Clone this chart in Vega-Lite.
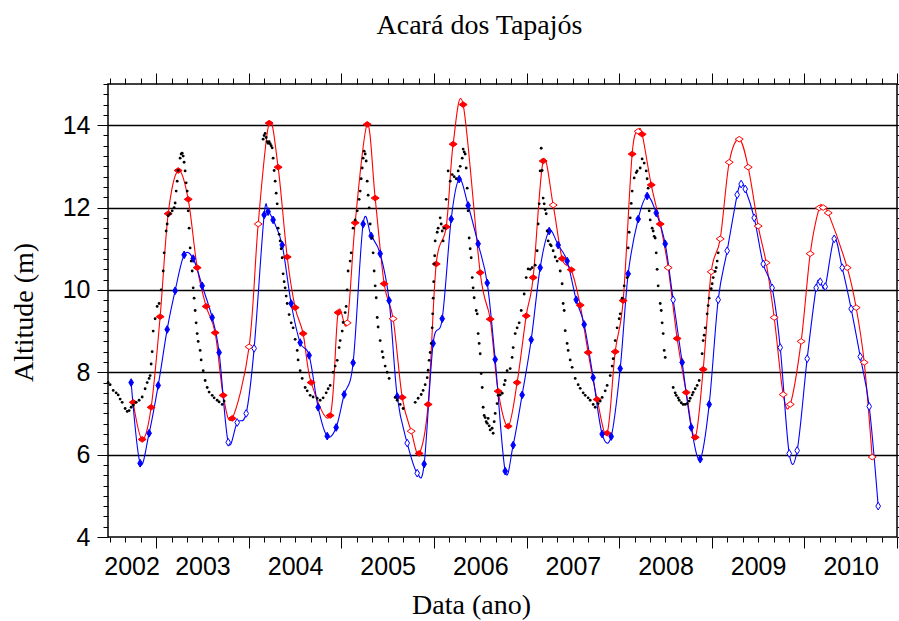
{
"$schema":"https://vega.github.io/schema/vega-lite/v6.json",
"width":789,"height":453,
"autosize":{"type":"none"},
"padding":{"left":108,"top":84,"right":2,"bottom":84},
"background":"white",
"title":{"text":"Acará dos Tapajós","font":"Liberation Serif","fontSize":28,"fontWeight":"normal","color":"black","anchor":"middle","dx":-23,"baseline":"alphabetic","offset":10},
"config":{"view":{"stroke":"black","strokeWidth":1.5},"axis":{"domain":false,"grid":false,"labelFont":"Liberation Sans","labelFontSize":25,"labelColor":"black","tickColor":"black","tickWidth":1,"titleFont":"Liberation Serif","titleFontSize":28,"titleFontWeight":"normal","titleColor":"black","labelFlush":false,"labelOverlap":false}},
"datasets":{
"verm":[{"ano":2002.752,"alt":7.27,"oco":0},{"ano":2002.849,"alt":6.37,"oco":0},{"ano":2002.946,"alt":7.15,"oco":0},{"ano":2003.043,"alt":9.35,"oco":0},{"ano":2003.13,"alt":11.85,"oco":0},{"ano":2003.238,"alt":12.9,"oco":0},{"ano":2003.346,"alt":12.2,"oco":0},{"ano":2003.443,"alt":10.54,"oco":0},{"ano":2003.54,"alt":9.6,"oco":0},{"ano":2003.637,"alt":8.96,"oco":0},{"ano":2003.724,"alt":7.44,"oco":0},{"ano":2003.821,"alt":6.88,"oco":0},{"ano":2004.004,"alt":8.62,"oco":1},{"ano":2004.102,"alt":11.6,"oco":1},{"ano":2004.22,"alt":14.05,"oco":0},{"ano":2004.317,"alt":12.98,"oco":0},{"ano":2004.415,"alt":10.8,"oco":0},{"ano":2004.501,"alt":9.57,"oco":0},{"ano":2004.587,"alt":8.94,"oco":0},{"ano":2004.674,"alt":7.75,"oco":0},{"ano":2004.879,"alt":6.95,"oco":0},{"ano":2004.965,"alt":9.45,"oco":0},{"ano":2005.063,"alt":9.2,"oco":1},{"ano":2005.149,"alt":11.63,"oco":0},{"ano":2005.279,"alt":14.02,"oco":0},{"ano":2005.365,"alt":12.23,"oco":0},{"ano":2005.462,"alt":10.15,"oco":0},{"ano":2005.559,"alt":9.3,"oco":1},{"ano":2005.657,"alt":7.39,"oco":0},{"ano":2005.754,"alt":6.57,"oco":1},{"ano":2005.84,"alt":6.03,"oco":0},{"ano":2005.937,"alt":7.22,"oco":0},{"ano":2006.024,"alt":10.63,"oco":0},{"ano":2006.132,"alt":11.53,"oco":0},{"ano":2006.207,"alt":13.54,"oco":0},{"ano":2006.315,"alt":14.5,"oco":0},{"ano":2006.499,"alt":10.42,"oco":0},{"ano":2006.607,"alt":9.29,"oco":0},{"ano":2006.693,"alt":7.54,"oco":0},{"ano":2006.801,"alt":6.69,"oco":0},{"ano":2006.898,"alt":7.75,"oco":0},{"ano":2006.996,"alt":9.37,"oco":0},{"ano":2007.071,"alt":10.3,"oco":0},{"ano":2007.179,"alt":13.13,"oco":0},{"ano":2007.287,"alt":12.06,"oco":1},{"ano":2007.384,"alt":10.76,"oco":0},{"ano":2007.482,"alt":10.49,"oco":0},{"ano":2007.579,"alt":9.63,"oco":0},{"ano":2007.665,"alt":8.48,"oco":0},{"ano":2007.762,"alt":7.34,"oco":0},{"ano":2007.87,"alt":6.52,"oco":0},{"ano":2007.957,"alt":8.5,"oco":0},{"ano":2008.043,"alt":9.74,"oco":0},{"ano":2008.14,"alt":13.3,"oco":0},{"ano":2008.205,"alt":13.85,"oco":1},{"ano":2008.248,"alt":13.78,"oco":0},{"ano":2008.346,"alt":12.55,"oco":0},{"ano":2008.443,"alt":11.6,"oco":0},{"ano":2008.529,"alt":10.54,"oco":1},{"ano":2008.626,"alt":8.82,"oco":0},{"ano":2008.724,"alt":7.51,"oco":0},{"ano":2008.821,"alt":6.42,"oco":0},{"ano":2008.907,"alt":8.07,"oco":0},{"ano":2008.994,"alt":10.44,"oco":1},{"ano":2009.091,"alt":11.24,"oco":1},{"ano":2009.188,"alt":13.1,"oco":1},{"ano":2009.296,"alt":13.66,"oco":1},{"ano":2009.393,"alt":12.98,"oco":1},{"ano":2009.501,"alt":11.55,"oco":1},{"ano":2009.587,"alt":10.66,"oco":1},{"ano":2009.674,"alt":9.33,"oco":1},{"ano":2009.771,"alt":7.46,"oco":1},{"ano":2009.847,"alt":7.22,"oco":1},{"ano":2009.965,"alt":8.75,"oco":1},{"ano":2010.063,"alt":10.88,"oco":1},{"ano":2010.16,"alt":11.99,"oco":1},{"ano":2010.203,"alt":12.0,"oco":1},{"ano":2010.257,"alt":11.87,"oco":1},{"ano":2010.462,"alt":10.54,"oco":1},{"ano":2010.559,"alt":9.57,"oco":1},{"ano":2010.646,"alt":8.24,"oco":1},{"ano":2010.732,"alt":5.94,"oco":1}],
"azul":[{"ano":2002.73,"alt":7.75,"oco":0},{"ano":2002.827,"alt":5.79,"oco":0},{"ano":2002.924,"alt":6.52,"oco":0},{"ano":2003.022,"alt":7.68,"oco":0},{"ano":2003.119,"alt":9.04,"oco":0},{"ano":2003.205,"alt":9.98,"oco":0},{"ano":2003.302,"alt":10.85,"oco":0},{"ano":2003.4,"alt":10.76,"oco":0},{"ano":2003.497,"alt":10.1,"oco":0},{"ano":2003.605,"alt":9.33,"oco":0},{"ano":2003.68,"alt":8.48,"oco":0},{"ano":2003.778,"alt":6.3,"oco":1},{"ano":2003.875,"alt":6.78,"oco":1},{"ano":2003.972,"alt":7.0,"oco":1},{"ano":2004.058,"alt":8.58,"oco":1},{"ano":2004.166,"alt":11.82,"oco":0},{"ano":2004.209,"alt":11.9,"oco":0},{"ano":2004.263,"alt":11.7,"oco":0},{"ano":2004.361,"alt":11.09,"oco":0},{"ano":2004.458,"alt":9.67,"oco":0},{"ano":2004.555,"alt":8.72,"oco":0},{"ano":2004.652,"alt":8.41,"oco":0},{"ano":2004.749,"alt":7.15,"oco":0},{"ano":2004.847,"alt":6.45,"oco":0},{"ano":2004.944,"alt":6.66,"oco":0},{"ano":2005.03,"alt":7.46,"oco":0},{"ano":2005.127,"alt":8.23,"oco":0},{"ano":2005.235,"alt":11.6,"oco":0},{"ano":2005.322,"alt":11.31,"oco":0},{"ano":2005.419,"alt":10.88,"oco":0},{"ano":2005.516,"alt":9.74,"oco":0},{"ano":2005.603,"alt":7.41,"oco":0},{"ano":2005.711,"alt":6.28,"oco":1},{"ano":2005.819,"alt":5.55,"oco":1},{"ano":2005.894,"alt":5.77,"oco":0},{"ano":2005.991,"alt":8.7,"oco":0},{"ano":2006.089,"alt":9.3,"oco":0},{"ano":2006.186,"alt":11.72,"oco":0},{"ano":2006.272,"alt":12.69,"oco":0},{"ano":2006.369,"alt":12.05,"oco":0},{"ano":2006.477,"alt":11.12,"oco":0},{"ano":2006.575,"alt":10.17,"oco":0},{"ano":2006.661,"alt":8.31,"oco":0},{"ano":2006.769,"alt":5.6,"oco":0},{"ano":2006.855,"alt":6.23,"oco":0},{"ano":2006.952,"alt":7.45,"oco":0},{"ano":2007.05,"alt":8.79,"oco":0},{"ano":2007.147,"alt":10.54,"oco":0},{"ano":2007.244,"alt":11.43,"oco":0},{"ano":2007.341,"alt":11.09,"oco":0},{"ano":2007.438,"alt":10.7,"oco":0},{"ano":2007.536,"alt":9.76,"oco":0},{"ano":2007.622,"alt":9.16,"oco":0},{"ano":2007.719,"alt":7.87,"oco":0},{"ano":2007.816,"alt":6.5,"oco":0},{"ano":2007.914,"alt":6.44,"oco":0},{"ano":2008.011,"alt":8.09,"oco":0},{"ano":2008.097,"alt":10.39,"oco":0},{"ano":2008.205,"alt":11.72,"oco":0},{"ano":2008.302,"alt":12.28,"oco":0},{"ano":2008.4,"alt":11.87,"oco":0},{"ano":2008.497,"alt":11.12,"oco":0},{"ano":2008.583,"alt":9.76,"oco":1},{"ano":2008.68,"alt":8.24,"oco":0},{"ano":2008.778,"alt":6.66,"oco":0},{"ano":2008.875,"alt":5.89,"oco":0},{"ano":2008.972,"alt":7.22,"oco":0},{"ano":2009.069,"alt":9.76,"oco":1},{"ano":2009.166,"alt":10.95,"oco":1},{"ano":2009.274,"alt":12.31,"oco":1},{"ano":2009.317,"alt":12.57,"oco":1},{"ano":2009.361,"alt":12.45,"oco":1},{"ano":2009.458,"alt":11.75,"oco":1},{"ano":2009.555,"alt":10.63,"oco":1},{"ano":2009.652,"alt":10.05,"oco":1},{"ano":2009.739,"alt":8.6,"oco":1},{"ano":2009.836,"alt":6.03,"oco":1},{"ano":2009.922,"alt":6.1,"oco":1},{"ano":2010.03,"alt":8.33,"oco":1},{"ano":2010.127,"alt":10.05,"oco":1},{"ano":2010.171,"alt":10.2,"oco":1},{"ano":2010.225,"alt":10.08,"oco":1},{"ano":2010.322,"alt":11.24,"oco":1},{"ano":2010.408,"alt":10.54,"oco":1},{"ano":2010.505,"alt":9.54,"oco":1},{"ano":2010.603,"alt":8.38,"oco":1},{"ano":2010.7,"alt":7.17,"oco":1},{"ano":2010.797,"alt":4.75,"oco":1}],
"insitu":[{"ano":2002.482,"alt":7.75},{"ano":2002.503,"alt":7.7},{"ano":2002.536,"alt":7.56},{"ano":2002.568,"alt":7.5},{"ano":2002.59,"alt":7.45},{"ano":2002.611,"alt":7.35},{"ano":2002.633,"alt":7.27},{"ano":2002.665,"alt":7.12},{"ano":2002.687,"alt":7.05},{"ano":2002.708,"alt":7.07},{"ano":2002.73,"alt":7.15},{"ano":2002.752,"alt":7.2},{"ano":2002.784,"alt":7.27},{"ano":2002.816,"alt":7.32},{"ano":2002.849,"alt":7.4},{"ano":2002.881,"alt":7.6},{"ano":2002.903,"alt":7.75},{"ano":2002.924,"alt":7.85},{"ano":2002.935,"alt":7.92},{"ano":2002.946,"alt":8.2},{"ano":2002.957,"alt":8.5},{"ano":2002.968,"alt":9.0},{"ano":2002.989,"alt":9.3},{"ano":2003.011,"alt":9.6},{"ano":2003.032,"alt":9.67},{"ano":2003.054,"alt":10.0},{"ano":2003.076,"alt":10.46},{"ano":2003.086,"alt":10.9},{"ano":2003.108,"alt":11.43},{"ano":2003.119,"alt":11.6},{"ano":2003.13,"alt":11.8},{"ano":2003.151,"alt":11.85},{"ano":2003.173,"alt":11.92},{"ano":2003.194,"alt":12.0},{"ano":2003.205,"alt":12.11},{"ano":2003.216,"alt":12.4},{"ano":2003.227,"alt":12.64},{"ano":2003.238,"alt":12.9},{"ano":2003.259,"alt":13.2},{"ano":2003.27,"alt":13.3},{"ano":2003.281,"alt":13.32},{"ano":2003.292,"alt":13.25},{"ano":2003.302,"alt":13.1},{"ano":2003.313,"alt":12.89},{"ano":2003.324,"alt":12.6},{"ano":2003.335,"alt":12.4},{"ano":2003.346,"alt":11.92},{"ano":2003.356,"alt":11.5},{"ano":2003.367,"alt":11.02},{"ano":2003.378,"alt":10.7},{"ano":2003.389,"alt":10.46},{"ano":2003.4,"alt":10.05},{"ano":2003.41,"alt":9.8},{"ano":2003.421,"alt":9.5},{"ano":2003.432,"alt":9.2},{"ano":2003.443,"alt":8.94},{"ano":2003.454,"alt":8.75},{"ano":2003.475,"alt":8.53},{"ano":2003.486,"alt":8.3},{"ano":2003.508,"alt":8.04},{"ano":2003.529,"alt":7.8},{"ano":2003.551,"alt":7.63},{"ano":2003.572,"alt":7.52},{"ano":2003.605,"alt":7.44},{"ano":2003.626,"alt":7.38},{"ano":2003.659,"alt":7.32},{"ano":2003.68,"alt":7.28},{"ano":2003.713,"alt":7.22},{"ano":2003.734,"alt":7.3},
{"ano":2004.155,"alt":13.66},{"ano":2004.166,"alt":13.75},{"ano":2004.177,"alt":13.8},{"ano":2004.188,"alt":13.7},{"ano":2004.199,"alt":13.6},{"ano":2004.209,"alt":13.56},{"ano":2004.22,"alt":13.6},{"ano":2004.231,"alt":13.55},{"ano":2004.242,"alt":13.5},{"ano":2004.253,"alt":13.45},{"ano":2004.263,"alt":13.2},{"ano":2004.274,"alt":12.9},{"ano":2004.285,"alt":12.64},{"ano":2004.296,"alt":12.35},{"ano":2004.307,"alt":12.09},{"ano":2004.317,"alt":11.5},{"ano":2004.328,"alt":11.35},{"ano":2004.339,"alt":11.19},{"ano":2004.35,"alt":11.0},{"ano":2004.361,"alt":10.78},{"ano":2004.371,"alt":10.39},{"ano":2004.382,"alt":10.2},{"ano":2004.393,"alt":10.05},{"ano":2004.404,"alt":9.85},{"ano":2004.415,"alt":9.67},{"ano":2004.436,"alt":9.4},{"ano":2004.458,"alt":9.2},{"ano":2004.479,"alt":9.08},{"ano":2004.501,"alt":8.8},{"ano":2004.523,"alt":8.53},{"ano":2004.533,"alt":8.3},{"ano":2004.555,"alt":8.04},{"ano":2004.577,"alt":7.85},{"ano":2004.609,"alt":7.63},{"ano":2004.631,"alt":7.55},{"ano":2004.663,"alt":7.44},{"ano":2004.695,"alt":7.4},{"ano":2004.739,"alt":7.37},{"ano":2004.771,"alt":7.32},{"ano":2004.803,"alt":7.38},{"ano":2004.836,"alt":7.5},{"ano":2004.857,"alt":7.6},{"ano":2004.879,"alt":7.68},{"ano":2004.911,"alt":8.0},{"ano":2004.933,"alt":8.15},{"ano":2004.955,"alt":8.29},{"ano":2004.976,"alt":8.6},{"ano":2004.987,"alt":8.77},{"ano":2005.009,"alt":9.0},{"ano":2005.019,"alt":9.21},{"ano":2005.041,"alt":9.45},{"ano":2005.052,"alt":9.6},{"ano":2005.063,"alt":10.0},{"ano":2005.073,"alt":10.46},{"ano":2005.095,"alt":10.7},{"ano":2005.106,"alt":10.9},{"ano":2005.127,"alt":11.5},{"ano":2005.149,"alt":11.7},{"ano":2005.171,"alt":11.92},{"ano":2005.192,"alt":12.2},{"ano":2005.203,"alt":12.4},{"ano":2005.214,"alt":12.7},{"ano":2005.225,"alt":12.96},{"ano":2005.235,"alt":13.2},{"ano":2005.246,"alt":13.37},{"ano":2005.257,"alt":13.3},{"ano":2005.268,"alt":13.13},{"ano":2005.279,"alt":12.64},{"ano":2005.289,"alt":12.3},{"ano":2005.3,"alt":11.99},{"ano":2005.311,"alt":11.6},{"ano":2005.333,"alt":11.26},{"ano":2005.343,"alt":10.9},{"ano":2005.354,"alt":10.46},{"ano":2005.365,"alt":10.1},{"ano":2005.376,"alt":9.81},{"ano":2005.387,"alt":9.33},{"ano":2005.397,"alt":9.1},{"ano":2005.419,"alt":8.77},{"ano":2005.441,"alt":8.5},{"ano":2005.451,"alt":8.36},{"ano":2005.473,"alt":8.15},{"ano":2005.495,"alt":8.0},{"ano":2005.516,"alt":7.85},
{"ano":2005.581,"alt":7.39},{"ano":2005.603,"alt":7.32},{"ano":2005.635,"alt":7.22},{"ano":2005.667,"alt":7.12},{"ano":2005.797,"alt":7.27},{"ano":2005.829,"alt":7.37},{"ano":2005.862,"alt":7.46},{"ano":2005.883,"alt":7.56},{"ano":2005.905,"alt":7.7},{"ano":2005.927,"alt":7.87},{"ano":2005.937,"alt":8.05},{"ano":2005.948,"alt":8.29},{"ano":2005.959,"alt":8.48},{"ano":2005.97,"alt":8.7},{"ano":2005.981,"alt":9.08},{"ano":2005.986,"alt":9.42},{"ano":2005.991,"alt":9.8},{"ano":2005.997,"alt":10.2},{"ano":2006.002,"alt":10.63},{"ano":2006.008,"alt":10.83},{"ano":2006.013,"alt":11.19},{"ano":2006.035,"alt":11.4},{"ano":2006.045,"alt":11.5},{"ano":2006.067,"alt":11.75},{"ano":2006.078,"alt":11.6},{"ano":2006.089,"alt":11.43},{"ano":2006.099,"alt":11.19},{"ano":2006.11,"alt":11.5},{"ano":2006.132,"alt":12.2},{"ano":2006.153,"alt":12.89},{"ano":2006.175,"alt":12.64},{"ano":2006.197,"alt":12.8},{"ano":2006.218,"alt":12.75},{"ano":2006.24,"alt":12.7},{"ano":2006.261,"alt":12.89},{"ano":2006.283,"alt":13.0},{"ano":2006.305,"alt":13.2},{"ano":2006.315,"alt":13.42},{"ano":2006.326,"alt":13.35},{"ano":2006.337,"alt":13.3},{"ano":2006.348,"alt":12.96},{"ano":2006.359,"alt":12.47},{"ano":2006.369,"alt":11.92},{"ano":2006.38,"alt":11.26},{"ano":2006.391,"alt":11.0},{"ano":2006.402,"alt":10.78},{"ano":2006.413,"alt":10.3},{"ano":2006.423,"alt":10.05},{"ano":2006.434,"alt":9.81},{"ano":2006.456,"alt":9.5},{"ano":2006.467,"alt":9.42},{"ano":2006.477,"alt":8.94},{"ano":2006.488,"alt":8.7},{"ano":2006.499,"alt":8.45},{"ano":2006.51,"alt":7.97},{"ano":2006.521,"alt":7.63},{"ano":2006.531,"alt":7.15},{"ano":2006.542,"alt":6.95},{"ano":2006.553,"alt":6.9},{"ano":2006.564,"alt":6.8},{"ano":2006.575,"alt":6.76},{"ano":2006.585,"alt":6.88},{"ano":2006.596,"alt":6.7},{"ano":2006.607,"alt":6.6},{"ano":2006.628,"alt":6.64},{"ano":2006.639,"alt":6.52},{"ano":2006.65,"alt":6.8},{"ano":2006.661,"alt":7.0},{"ano":2006.682,"alt":7.24},{"ano":2006.693,"alt":7.44},{"ano":2006.715,"alt":7.45},{"ano":2006.737,"alt":7.49},{"ano":2006.758,"alt":7.7},{"ano":2006.769,"alt":7.8},{"ano":2006.79,"alt":8.04},{"ano":2006.823,"alt":8.09},{"ano":2006.844,"alt":8.36},{"ano":2006.855,"alt":8.6},{"ano":2006.877,"alt":8.94},{"ano":2006.898,"alt":9.08},{"ano":2006.92,"alt":9.2},{"ano":2006.942,"alt":9.5},{"ano":2006.974,"alt":9.9},{"ano":2006.996,"alt":10.3},{"ano":2007.017,"alt":10.51},{"ano":2007.039,"alt":10.5},{"ano":2007.06,"alt":10.54},{"ano":2007.093,"alt":10.6},{"ano":2007.114,"alt":10.95},{"ano":2007.125,"alt":11.6},{"ano":2007.136,"alt":12.09},{"ano":2007.147,"alt":12.89},{"ano":2007.158,"alt":13.44},{"ano":2007.168,"alt":12.9},{"ano":2007.179,"alt":12.23},{"ano":2007.19,"alt":12.09},{"ano":2007.201,"alt":11.95},{"ano":2007.212,"alt":11.85},{"ano":2007.222,"alt":11.43},{"ano":2007.233,"alt":11.19},{"ano":2007.255,"alt":11.1},{"ano":2007.266,"alt":11.07},{"ano":2007.287,"alt":10.95},{"ano":2007.309,"alt":10.8},{"ano":2007.33,"alt":10.7},{"ano":2007.363,"alt":10.46},{"ano":2007.384,"alt":10.15},{"ano":2007.395,"alt":9.67},{"ano":2007.406,"alt":9.5},{"ano":2007.417,"alt":9.01},{"ano":2007.438,"alt":8.7},{"ano":2007.449,"alt":8.53},{"ano":2007.471,"alt":8.3},{"ano":2007.492,"alt":8.12},{"ano":2007.525,"alt":7.85},{"ano":2007.557,"alt":7.7},{"ano":2007.579,"alt":7.61},{"ano":2007.611,"alt":7.5},{"ano":2007.633,"alt":7.44},{"ano":2007.665,"alt":7.38},{"ano":2007.687,"alt":7.32},{"ano":2007.719,"alt":7.22},{"ano":2007.741,"alt":7.15},{"ano":2007.773,"alt":7.24},{"ano":2007.795,"alt":7.3},{"ano":2007.816,"alt":7.39},{"ano":2007.849,"alt":7.55},{"ano":2007.87,"alt":7.68},{"ano":2007.903,"alt":7.92},{"ano":2007.924,"alt":8.15},{"ano":2007.935,"alt":8.33},{"ano":2007.957,"alt":8.77},{"ano":2007.978,"alt":9.08},{"ano":2008.0,"alt":9.3},{"ano":2008.011,"alt":9.42},{"ano":2008.032,"alt":9.8},{"ano":2008.054,"alt":10.1},{"ano":2008.086,"alt":10.3},{"ano":2008.097,"alt":11.02},{"ano":2008.108,"alt":11.4},{"ano":2008.119,"alt":11.75},{"ano":2008.13,"alt":12.1},{"ano":2008.14,"alt":12.4},{"ano":2008.162,"alt":12.72},{"ano":2008.184,"alt":12.85},{"ano":2008.194,"alt":12.89},{"ano":2008.227,"alt":12.96},{"ano":2008.248,"alt":13.18},{"ano":2008.27,"alt":13.08},{"ano":2008.292,"alt":12.89},{"ano":2008.302,"alt":12.7},{"ano":2008.313,"alt":12.47},{"ano":2008.324,"alt":11.92},{"ano":2008.335,"alt":11.7},{"ano":2008.356,"alt":11.5},{"ano":2008.367,"alt":11.43},{"ano":2008.378,"alt":11.3},{"ano":2008.389,"alt":11.26},{"ano":2008.4,"alt":10.9},{"ano":2008.41,"alt":10.5},{"ano":2008.421,"alt":10.1},{"ano":2008.443,"alt":9.67},{"ano":2008.454,"alt":9.5},{"ano":2008.464,"alt":9.2},{"ano":2008.475,"alt":8.94},{"ano":2008.486,"alt":8.53},{"ano":2008.497,"alt":8.36},
{"ano":2008.583,"alt":7.63},{"ano":2008.605,"alt":7.5},{"ano":2008.616,"alt":7.44},{"ano":2008.637,"alt":7.38},{"ano":2008.648,"alt":7.32},{"ano":2008.67,"alt":7.26},{"ano":2008.691,"alt":7.22},{"ano":2008.713,"alt":7.22},{"ano":2008.734,"alt":7.24},{"ano":2008.756,"alt":7.3},{"ano":2008.767,"alt":7.37},{"ano":2008.788,"alt":7.45},{"ano":2008.799,"alt":7.51},{"ano":2008.821,"alt":7.6},{"ano":2008.842,"alt":7.68},{"ano":2008.864,"alt":7.8},{"ano":2008.896,"alt":8.45},{"ano":2008.907,"alt":8.77},{"ano":2008.918,"alt":8.9},{"ano":2008.929,"alt":9.08},{"ano":2008.95,"alt":9.42},{"ano":2008.961,"alt":9.62},{"ano":2008.972,"alt":9.8},{"ano":2008.994,"alt":10.03},{"ano":2009.004,"alt":10.15},{"ano":2009.015,"alt":10.3},{"ano":2009.037,"alt":10.45},{"ano":2009.048,"alt":10.54},{"ano":2009.058,"alt":10.7},{"ano":2009.069,"alt":10.9}]
},
"layer":[
{"data":{"name":"verm"},
 "mark":{"type":"line","color":"#ff0000","strokeWidth":1.1,"interpolate":"cardinal"},
 "encoding":{
  "x":{"field":"ano","type":"quantitative","scale":{"domain":[2002.48,2011],"nice":false,"zero":false},
   "axis":{"orient":"bottom","values":[2002.735,2003.5,2004.5,2005.5,2006.5,2007.5,2008.5,2009.5,2010.5],"ticks":false,"labelExpr":"'' + floor(datum.value)","labelPadding":17,"title":"Data (ano)","titleX":363,"titleY":76,"titleAlign":"center","titleBaseline":"alphabetic"}},
  "y":{"field":"alt","type":"quantitative","scale":{"domain":[4,15],"nice":false,"zero":false},
   "axis":{"orient":"right","values":[4,4.25,4.5,4.75,5,5.25,5.5,5.75,6,6.25,6.5,6.75,7,7.25,7.5,7.75,8,8.25,8.5,8.75,9,9.25,9.5,9.75,10,10.25,10.5,10.75,11,11.25,11.5,11.75,12,12.25,12.5,12.75,13,13.25,13.5,13.75,14,14.25,14.5,14.75,15],"labels":false,"tickSize":{"condition":{"test":"datum.value % 2 == 0","value":11},"value":5},"title":null}}}},
{"data":{"name":"azul"},
 "mark":{"type":"line","color":"#0000ff","strokeWidth":1.1,"interpolate":"cardinal"},
 "encoding":{
  "x":{"field":"ano","type":"quantitative","scale":{"domain":[2002.48,2011],"nice":false,"zero":false},
   "axis":{"orient":"top","values":[2002.5,2002.6667,2002.8333,2003,2003.1667,2003.3333,2003.5,2003.6667,2003.8333,2004,2004.1667,2004.3333,2004.5,2004.6667,2004.8333,2005,2005.1667,2005.3333,2005.5,2005.6667,2005.8333,2006,2006.1667,2006.3333,2006.5,2006.6667,2006.8333,2007,2007.1667,2007.3333,2007.5,2007.6667,2007.8333,2008,2008.1667,2008.3333,2008.5,2008.6667,2008.8333,2009,2009.1667,2009.3333,2009.5,2009.6667,2009.8333,2010,2010.1667,2010.3333,2010.5,2010.6667,2010.8333,2011],"labels":false,"tickSize":{"condition":{"test":"abs(datum.value - round(datum.value)) < 0.001","value":11},"value":6},"title":null}},
  "y":{"field":"alt","type":"quantitative","scale":{"domain":[4,15],"nice":false,"zero":false},"axis":null}}},
{"data":{"name":"verm"},
 "mark":{"type":"point","shape":"M-1,0L0,-0.7L1,0L0,0.7Z","size":64,"filled":true,"stroke":"#ff0000","strokeWidth":1,"opacity":1},
 "encoding":{
  "x":{"field":"ano","type":"quantitative","axis":null},
  "y":{"field":"alt","type":"quantitative","axis":null},
  "fill":{"condition":{"test":"datum.oco == 1","value":"white"},"value":"#ff0000"}}},
{"data":{"name":"azul"},
 "mark":{"type":"point","shape":"M-0.6,0L0,-1L0.6,0L0,1Z","size":60,"filled":true,"stroke":"#0000ff","strokeWidth":1,"opacity":1},
 "encoding":{
  "x":{"field":"ano","type":"quantitative","axis":null},
  "y":{"field":"alt","type":"quantitative","axis":null},
  "fill":{"condition":{"test":"datum.oco == 1","value":"white"},"value":"#0000ff"}}},
{"data":{"name":"insitu"},
 "mark":{"type":"circle","size":8,"color":"black","opacity":1},
 "encoding":{
  "x":{"field":"ano","type":"quantitative","scale":{"domain":[2002.48,2011],"nice":false,"zero":false},
   "axis":{"orient":"bottom","values":[2002.5,2002.6667,2002.8333,2003,2003.1667,2003.3333,2003.5,2003.6667,2003.8333,2004,2004.1667,2004.3333,2004.5,2004.6667,2004.8333,2005,2005.1667,2005.3333,2005.5,2005.6667,2005.8333,2006,2006.1667,2006.3333,2006.5,2006.6667,2006.8333,2007,2007.1667,2007.3333,2007.5,2007.6667,2007.8333,2008,2008.1667,2008.3333,2008.5,2008.6667,2008.8333,2009,2009.1667,2009.3333,2009.5,2009.6667,2009.8333,2010,2010.1667,2010.3333,2010.5,2010.6667,2010.8333,2011],"labels":false,"tickSize":{"condition":{"test":"abs(datum.value - round(datum.value)) < 0.001","value":11},"value":5},"title":null}},
  "y":{"field":"alt","type":"quantitative","scale":{"domain":[4,15],"nice":false,"zero":false},
   "axis":{"orient":"left","values":[4,4.25,4.5,4.75,5,5.25,5.5,5.75,6,6.25,6.5,6.75,7,7.25,7.5,7.75,8,8.25,8.5,8.75,9,9.25,9.5,9.75,10,10.25,10.5,10.75,11,11.25,11.5,11.75,12,12.25,12.5,12.75,13,13.25,13.5,13.75,14,14.25,14.5,14.75,15],"labelExpr":"datum.value % 2 == 0 ? format(datum.value, 'd') : ''","labelPadding":7,"tickSize":{"condition":{"test":"datum.value % 2 == 0","value":11},"value":5},"grid":true,"gridColor":"black","gridWidth":1.5,"gridOpacity":{"condition":{"test":"datum.value % 2 == 0 && datum.value > 4","value":1},"value":0},"title":"Altitude (m)","titleX":-76,"titleY":228,"titleAngle":270,"titleAlign":"center","titleBaseline":"alphabetic"}}}}
],
"resolve":{"axis":{"x":"independent","y":"independent"}}
}
